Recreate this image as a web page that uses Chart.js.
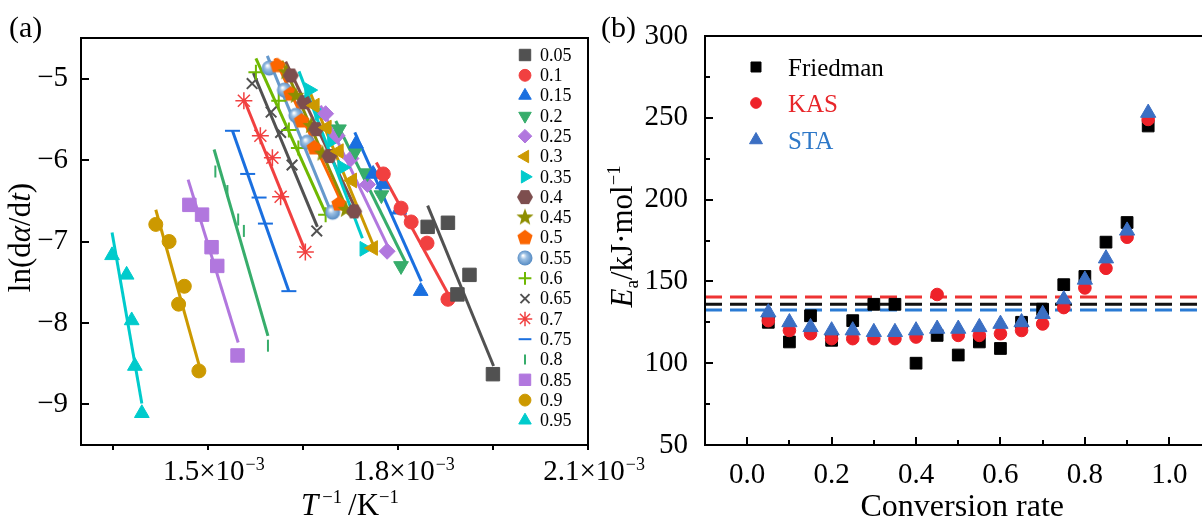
<!DOCTYPE html>
<html>
<head>
<meta charset="utf-8">
<script src="https://cdn.jsdelivr.net/npm/chart.js@4.4.1/dist/chart.umd.min.js"></script>
<style>
  html, body { margin: 0; padding: 0; background: #fff; overflow: hidden; width: 1202px; height: 518px; }
  .panel { position: absolute; top: 0; height: 518px; }
  #wrapA { left: 0; width: 680px; }
  #wrapB { left: 600px; width: 640px; }
</style>
</head>
<body>
<div id="wrapA" class="panel"><canvas id="chartA"></canvas></div>
<div id="wrapB" class="panel"><canvas id="chartB"></canvas></div>
<script>
// ---- panel (a): Friedman plot, ln(da/dt) vs 1/T ----
const conversions = ['0.05', '0.1', '0.15', '0.2', '0.25', '0.3', '0.35', '0.4', '0.45', '0.5',
  '0.55', '0.6', '0.65', '0.7', '0.75', '0.8', '0.85', '0.9', '0.95'];

// 1/T in 10^-3 K^-1, one row per conversion
const invT = [
  [1.847, 1.879, 1.913, 1.894, 1.950],
  [1.777, 1.805, 1.821, 1.846, 1.879],
  [1.734, 1.761, 1.776, 1.802, 1.836],
  [1.707, 1.733, 1.752, 1.774, 1.805],
  [1.686, 1.704, 1.726, 1.752, 1.783],
  [1.669, 1.688, 1.707, 1.728, 1.761],
  [1.660, 1.676, 1.696, 1.712, 1.747],
  [1.631, 1.652, 1.671, 1.692, 1.731],
  [1.624, 1.639, 1.663, 1.681, 1.718],
  [1.610, 1.631, 1.648, 1.668, 1.707],
  [1.597, 1.621, 1.639, 1.657, 1.697],
  [1.576, 1.612, 1.628, 1.643, 1.686],
  [1.570, 1.600, 1.615, 1.633, 1.672],
  [1.557, 1.583, 1.602, 1.615, 1.654],
  [1.539, 1.563, 1.581, 1.591, 1.628],
  [1.512, 1.531, 1.548, 1.557, 1.595],
  [1.471, 1.491, 1.506, 1.515, 1.547],
  [1.418, 1.439, 1.463, 1.454, 1.486],
  [1.349, 1.372, 1.380, 1.385, 1.396]
];
const lnRate = [
  [-6.82, -6.77, -7.41, -7.65, -8.63],
  [-6.17, -6.59, -6.76, -7.02, -7.71],
  [-5.80, -6.17, -6.30, -6.61, -7.61],
  [-5.62, -5.89, -6.16, -6.43, -7.30],
  [-5.43, -5.70, -5.98, -6.30, -7.12],
  [-5.33, -5.60, -5.89, -6.25, -7.08],
  [-5.14, -5.42, -5.76, -6.09, -7.09],
  [-4.96, -5.29, -5.62, -5.95, -6.63],
  [-4.92, -5.21, -5.58, -5.92, -6.61],
  [-4.84, -5.19, -5.52, -5.85, -6.54],
  [-4.87, -5.14, -5.45, -5.78, -6.64],
  [-4.92, -5.27, -5.63, -5.85, -6.67],
  [-5.06, -5.41, -5.66, -6.06, -6.87],
  [-5.27, -5.70, -5.97, -6.45, -7.13],
  [-5.64, -6.17, -6.46, -6.78, -7.61],
  [-6.14, -6.38, -6.73, -6.87, -8.28],
  [-6.55, -6.67, -7.07, -7.30, -8.40],
  [-6.79, -7.00, -7.55, -7.77, -8.59],
  [-7.17, -7.41, -7.97, -8.53, -9.11]
];
// ends of the fitted lines
const fitInvT = [
  [1.847, 1.951], [1.766, 1.881], [1.732, 1.837], [1.702, 1.813], [1.678, 1.786],
  [1.660, 1.761], [1.644, 1.744], [1.623, 1.734], [1.617, 1.720], [1.606, 1.710],
  [1.594, 1.692], [1.576, 1.687], [1.572, 1.673], [1.557, 1.653], [1.539, 1.628],
  [1.510, 1.595], [1.469, 1.548], [1.418, 1.486], [1.349, 1.396]
];
const fitLnRate = [
  [-6.56, -8.53], [-6.03, -7.67], [-5.66, -7.49], [-5.52, -7.27], [-5.33, -7.09],
  [-5.14, -7.04], [-4.91, -6.96], [-4.79, -6.61], [-4.78, -6.61], [-4.75, -6.50],
  [-4.72, -6.59], [-4.75, -6.67], [-4.93, -6.82], [-5.25, -7.10], [-5.64, -7.61],
  [-5.87, -8.16], [-6.24, -8.24], [-6.61, -8.51], [-6.89, -8.99]
];
const aXTicks = [1.35, 1.5, 1.65, 1.8, 1.95, 2.1];
const aXLabels = [1.5, 1.8, 2.1];
const aYTicks = [-9, -8, -7, -6, -5];

// ---- panel (b): activation energy vs conversion ----
const convRate = [0.05, 0.1, 0.15, 0.2, 0.25, 0.3, 0.35, 0.4, 0.45, 0.5,
  0.55, 0.6, 0.65, 0.7, 0.75, 0.8, 0.85, 0.9, 0.95];
const friedmanEa = [125, 113, 129, 114, 126, 136, 136, 100, 117, 105, 113, 109, 125, 133, 148, 153, 174, 186, 245];
const kasEa = [126, 120, 118, 115, 115, 115, 115, 116, 142, 117, 117, 118, 120, 124, 134, 146, 158, 177, 249];
const staEa = [131, 125, 122, 120, 120, 119, 119, 120, 121, 121, 122, 124, 125, 130, 139, 151, 164, 181, 253];
const meanEa = [136, 140.5, 132.5]; // Friedman, KAS, STA averages
const methods = ['Friedman', 'KAS', 'STA'];
const bXTicks = [0, 0.1, 0.2, 0.3, 0.4, 0.5, 0.6, 0.7, 0.8, 0.9, 1.0];
const bYTicks = [50, 75, 100, 125, 150, 175, 200, 225, 250, 275, 300];

const SERIF = "'Liberation Serif', 'Times New Roman', serif";
const seriesColors = ['#515151', '#F14040', '#1A6FDF', '#37AD6B', '#B177DE', '#CC9900', '#00CBCC',
  '#7D4E4E', '#8E8E00', '#FB6501', '#6699CC', '#6FB802', '#515151', '#F14040', '#1A6FDF',
  '#37AD6B', '#B177DE', '#CC9900', '#00CBCC'];

function markerImage(size, paint) {
  const c = document.createElement('canvas');
  c.width = size; c.height = size;
  const g = c.getContext('2d');
  g.translate(size / 2, size / 2);
  paint(g);
  return c;
}
function polygon(g, pts, color) {
  g.beginPath();
  pts.forEach((p, k) => k ? g.lineTo(p[0], p[1]) : g.moveTo(p[0], p[1]));
  g.closePath();
  g.fillStyle = color;
  g.fill();
}
function ring(n, r, start, inner) {
  const pts = [];
  const m = inner ? n * 2 : n;
  for (let k = 0; k < m; k++) {
    const a = start + k * Math.PI * 2 / m;
    const rr = inner && k % 2 ? inner : r;
    pts.push([Math.cos(a) * rr, Math.sin(a) * rr]);
  }
  return pts;
}
const hexagon = markerImage(18, g => polygon(g, ring(6, 8, 0), '#7D4E4E'));
const star5 = markerImage(20, g => polygon(g, ring(5, 9, -Math.PI / 2, 3.8), '#8E8E00'));
const pentagon = markerImage(18, g => polygon(g, ring(5, 8, -Math.PI / 2), '#FB6501'));
const sphere = markerImage(18, g => {
  const grad = g.createRadialGradient(-2, -2.5, 0.5, 0, 0, 8);
  grad.addColorStop(0, '#ffffff');
  grad.addColorStop(0.35, '#9cc0e4');
  grad.addColorStop(1, '#4f86c0');
  g.beginPath(); g.arc(0, 0, 7.5, 0, Math.PI * 2); g.fillStyle = grad; g.fill();
});

const marks = [
  { style: 'rect', rot: 0, r: 9.5, bw: 1 },
  { style: 'circle', rot: 0, r: 7, bw: 1 },
  { style: 'triangle', rot: 0, r: 8.5, bw: 1 },
  { style: 'triangle', rot: 180, r: 8.5, bw: 1 },
  { style: 'rectRot', rot: 0, r: 8, bw: 1 },
  { style: 'triangle', rot: 270, r: 8.5, bw: 1 },
  { style: 'triangle', rot: 90, r: 8.5, bw: 1 },
  { style: hexagon, rot: 0, r: 7, bw: 0 },
  { style: star5, rot: 0, r: 7, bw: 0 },
  { style: pentagon, rot: 0, r: 7, bw: 0 },
  { style: sphere, rot: 0, r: 7, bw: 0 },
  { style: 'cross', rot: 0, r: 7.5, bw: 2 },
  { style: 'crossRot', rot: 0, r: 7.5, bw: 2 },
  { style: 'star', rot: 0, r: 8.5, bw: 1.5 },
  { style: 'line', rot: 0, r: 7.5, bw: 2 },
  { style: 'line', rot: 90, r: 6, bw: 2 },
  { style: 'rect', rot: 0, r: 9.5, bw: 1 },
  { style: 'circle', rot: 0, r: 7, bw: 1 },
  { style: 'triangle', rot: 0, r: 8.5, bw: 1 }
];

const drawPoint = (Chart.helpers && Chart.helpers.drawPoint) || function (ctx, o, x, y) {
  ctx.beginPath(); ctx.arc(x, y, o.radius, 0, Math.PI * 2); ctx.fill();
};

// text made of runs: plain, italic, superscript, subscript
function drawRich(ctx, runs, x, y, size, angle) {
  ctx.save();
  ctx.translate(x, y);
  if (angle) ctx.rotate(angle);
  ctx.textBaseline = 'alphabetic';
  ctx.textAlign = 'left';
  let w = 0;
  const items = runs.map(r => {
    let s = size, dy = 0;
    if (r.sup) { s = size * 0.6; dy = -size * 0.4; }
    if (r.sub) { s = size * 0.62; dy = size * 0.2; }
    const font = (r.italic ? 'italic ' : '') + s + 'px ' + SERIF;
    ctx.font = font;
    w += r.gap || 0;
    const it = { t: r.t, font, dx: w, dy, color: r.color || '#000' };
    w += ctx.measureText(r.t).width;
    return it;
  });
  items.forEach(it => {
    ctx.font = it.font;
    ctx.fillStyle = it.color;
    ctx.fillText(it.t, it.dx - w / 2, it.dy);
  });
  ctx.restore();
}

// ---------------- chart (a) ----------------
const fitSets = conversions.map((c, i) => ({
  label: 'fit ' + c,
  data: fitInvT[i].map((x, j) => ({ x, y: fitLnRate[i][j] })),
  showLine: true,
  pointRadius: 0,
  borderColor: seriesColors[i],
  borderWidth: 3,
  order: 1
}));
const pointSets = conversions.map((c, i) => ({
  label: c,
  data: invT[i].map((x, j) => ({ x, y: lnRate[i][j] })),
  showLine: false,
  pointStyle: marks[i].style,
  pointRotation: marks[i].rot,
  pointRadius: marks[i].r,
  pointBorderWidth: marks[i].bw,
  pointBackgroundColor: seriesColors[i],
  pointBorderColor: seriesColors[i],
  order: 0
}));

const decoA = {
  id: 'decoA',
  afterDraw(chart) {
    const { ctx, chartArea: a, scales: { x, y } } = chart;
    ctx.save();
    ctx.strokeStyle = '#000';
    ctx.lineWidth = 2;
    ctx.strokeRect(a.left, a.top, a.right - a.left, a.bottom - a.top);
    ctx.beginPath();
    aXTicks.forEach(v => {
      const px = Math.round(x.getPixelForValue(v));
      ctx.moveTo(px, a.bottom); ctx.lineTo(px, a.bottom + 5);
    });
    aYTicks.forEach(v => {
      const py = Math.round(y.getPixelForValue(v));
      ctx.moveTo(a.left, py); ctx.lineTo(a.left + 8, py);
    });
    ctx.stroke();

    // x tick labels with 10^-3
    aXLabels.forEach(v => {
      const px = x.getPixelForValue(v);
      ctx.font = '29px ' + SERIF;
      ctx.fillStyle = '#000';
      ctx.textAlign = 'center';
      ctx.textBaseline = 'alphabetic';
      const main = v.toFixed(1) + '\u00d710';
      const mw = ctx.measureText(main).width;
      ctx.fillText(main, px - 4, a.bottom + 35);
      ctx.font = '18px ' + SERIF;
      ctx.textAlign = 'left';
      ctx.fillText('\u22123', px - 4 + mw / 2 + 1, a.bottom + 25);
    });

    // axis titles and panel tag
    drawRich(ctx, [{ t: 'T', italic: true }, { t: '\u22121', sup: true, gap: 4 }, { t: '/K', gap: 6 }, { t: '\u22121', sup: true }],
      350, 515, 31, 0);
    drawRich(ctx, [{ t: 'ln(d' }, { t: '\u03b1', italic: true }, { t: '/d' }, { t: 't', italic: true }, { t: ')' }],
      30, (a.top + a.bottom) / 2 - 4, 31, -Math.PI / 2);
    ctx.font = '30px ' + SERIF;
    ctx.fillStyle = '#000';
    ctx.textAlign = 'left';
    ctx.textBaseline = 'alphabetic';
    ctx.fillText('(a)', 9, 37);

    // legend
    conversions.forEach((c, i) => {
      const ly = a.top + 17 + i * 20.3;
      const mx = a.right - 63;
      ctx.fillStyle = seriesColors[i];
      ctx.strokeStyle = seriesColors[i];
      ctx.lineWidth = marks[i].bw;
      drawPoint(ctx, { pointStyle: marks[i].style, rotation: marks[i].rot, radius: marks[i].r * 0.85, borderWidth: marks[i].bw }, mx, ly);
      ctx.fillStyle = '#000';
      ctx.font = '18px ' + SERIF;
      ctx.textAlign = 'left';
      ctx.textBaseline = 'middle';
      ctx.fillText(c, a.right - 48, ly + 1);
    });
    ctx.restore();
  }
};

new Chart(document.getElementById('chartA').getContext('2d'), {
  type: 'scatter',
  data: { datasets: [...fitSets, ...pointSets] },
  options: {
    responsive: true,
    maintainAspectRatio: false,
    animation: false,
    layout: { padding: { left: 0, top: 38, right: 92, bottom: 0 } },
    plugins: { legend: { display: false }, tooltip: { enabled: false } },
    scales: {
      x: {
        type: 'linear', min: 1.3, max: 2.1,
        afterBuildTicks: s => { s.ticks = aXTicks.map(v => ({ value: v })); },
        afterFit: s => { s.height = 73; },
        grid: { display: false },
        border: { display: false },
        ticks: { display: false }
      },
      y: {
        type: 'linear', min: -9.5, max: -4.5,
        afterBuildTicks: s => { s.ticks = aYTicks.map(v => ({ value: v })); },
        afterFit: s => { s.width = 81; },
        grid: { display: false },
        border: { display: false },
        ticks: {
          color: '#000', padding: 5,
          font: { family: SERIF, size: 29 },
          callback: v => '\u2212' + Math.abs(v)
        }
      }
    }
  },
  plugins: [decoA]
});

// ---------------- chart (b) ----------------
const meanColors = ['#111111', '#ee3333', '#2a7bd4'];
const methodColors = ['#000000', '#ee2229', '#3b6fc3'];
const textColors = ['#000000', '#e8262a', '#2e78c8'];
const methodStyles = [
  { style: 'rect', r: 8.3 },
  { style: 'circle', r: 6.3 },
  { style: 'triangle', r: 8.8 }
];
const eaSeries = [friedmanEa, kasEa, staEa];

const meanSets = meanEa.map((m, i) => ({
  label: methods[i] + ' mean',
  data: [{ x: -0.1, y: m }, { x: 1.1, y: m }],
  showLine: true,
  pointRadius: 0,
  borderColor: meanColors[i],
  borderWidth: 3,
  borderDash: [17, 8],
  order: 10
}));
const eaSets = eaSeries.map((vals, i) => ({
  label: methods[i],
  data: convRate.map((c, j) => ({ x: c, y: vals[j] })),
  showLine: false,
  pointStyle: methodStyles[i].style,
  pointRadius: methodStyles[i].r,
  pointBorderWidth: 1,
  pointBackgroundColor: methodColors[i],
  pointBorderColor: methodColors[i],
  order: 3 - i
}));

const decoB = {
  id: 'decoB',
  afterDraw(chart) {
    const { ctx, chartArea: a, scales: { x, y } } = chart;
    ctx.save();
    ctx.strokeStyle = '#000';
    ctx.lineWidth = 2;
    ctx.strokeRect(a.left, a.top, a.right - a.left, a.bottom - a.top);
    ctx.beginPath();
    bXTicks.forEach((v, k) => {
      const px = Math.round(x.getPixelForValue(v));
      const len = k % 2 === 0 ? 8 : 5;
      ctx.moveTo(px, a.bottom); ctx.lineTo(px, a.bottom - len);
    });
    bYTicks.forEach((v, k) => {
      const py = Math.round(y.getPixelForValue(v));
      const len = k % 2 === 0 ? 8 : 5;
      ctx.moveTo(a.left, py); ctx.lineTo(a.left + len, py);
    });
    ctx.stroke();

    drawRich(ctx, [{ t: 'Conversion rate' }], (a.left + a.right) / 2 + 4, 516, 32, 0);
    drawRich(ctx, [{ t: 'E', italic: true }, { t: 'a', sub: true }, { t: '/kJ\u00b7mol' }, { t: '\u22121', sup: true }],
      32, (a.top + a.bottom) / 2 - 4, 31, -Math.PI / 2);
    ctx.font = '30px ' + SERIF;
    ctx.fillStyle = '#000';
    ctx.textAlign = 'left';
    ctx.textBaseline = 'alphabetic';
    ctx.fillText('(b)', 1, 37);

    // legend inside the plot
    const rows = [31, 67, 104];
    methods.forEach((m, i) => {
      const ly = a.top + rows[i];
      ctx.fillStyle = methodColors[i];
      ctx.strokeStyle = methodColors[i];
      ctx.lineWidth = 1;
      drawPoint(ctx, { pointStyle: methodStyles[i].style, rotation: 0, radius: methodStyles[i].r * 0.85, borderWidth: 1 }, a.left + 51, ly);
      ctx.fillStyle = textColors[i];
      ctx.font = '25px ' + SERIF;
      ctx.textAlign = 'left';
      ctx.textBaseline = 'alphabetic';
      ctx.fillText(m, a.left + 83, ly + 8.5);
    });
    ctx.restore();
  }
};

new Chart(document.getElementById('chartB').getContext('2d'), {
  type: 'scatter',
  data: { datasets: [...meanSets, ...eaSets] },
  options: {
    responsive: true,
    maintainAspectRatio: false,
    animation: false,
    layout: { padding: { left: 0, top: 36, right: 28.5, bottom: 0 } },
    plugins: { legend: { display: false }, tooltip: { enabled: false } },
    scales: {
      x: {
        type: 'linear', min: -0.1, max: 1.1,
        afterBuildTicks: s => { s.ticks = bXTicks.map(v => ({ value: v })); },
        afterFit: s => { s.height = 73; },
        grid: { display: false },
        border: { display: false },
        ticks: {
          color: '#000', padding: 5, autoSkip: false, maxRotation: 0,
          font: { family: SERIF, size: 29 },
          callback: v => Math.abs(v * 5 - Math.round(v * 5)) < 1e-6 ? v.toFixed(1) : ''
        }
      },
      y: {
        type: 'linear', min: 50, max: 300,
        afterBuildTicks: s => { s.ticks = bYTicks.map(v => ({ value: v })); },
        afterFit: s => { s.width = 105; },
        grid: { display: false },
        border: { display: false },
        ticks: {
          color: '#000', padding: 9, autoSkip: false,
          font: { family: SERIF, size: 29 },
          callback: v => v % 50 === 0 ? String(v) : ''
        }
      }
    }
  },
  plugins: [decoB]
});
</script>
</body>
</html>
